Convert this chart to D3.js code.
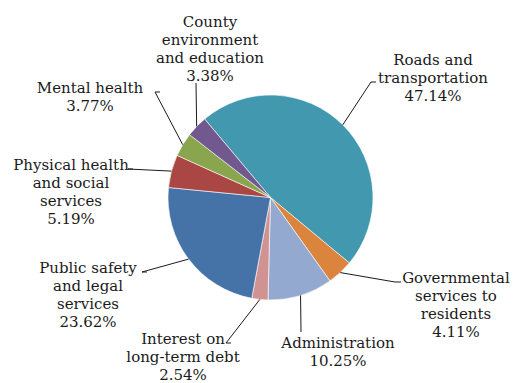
<!DOCTYPE html>
<html>
<head>
<meta charset="utf-8">
<script src="https://cdn.jsdelivr.net/npm/d3@7"></script>
<style>
  html, body { margin: 0; padding: 0; background: #fff; }
  svg text { font-family: "DejaVu Serif", serif; font-size: 15px; fill: #1a1a1a; }
</style>
</head>
<body>
<div id="chart"></div>
<script>
/* chart data */
const categories = [
    "Roads and transportation",
    "Governmental services to residents",
    "Administration",
    "Interest on long-term debt",
    "Public safety and legal services",
    "Physical health and social services",
    "Mental health",
    "County environment and education"
];
const shares = [47.14, 4.11, 10.25, 2.54, 23.62, 5.19, 3.77, 3.38];
const labelLines = [
    ["Roads and", "transportation"],
    ["Governmental", "services to", "residents"],
    ["Administration"],
    ["Interest on", "long-term debt"],
    ["Public safety", "and legal", "services"],
    ["Physical health", "and social", "services"],
    ["Mental health"],
    ["County", "environment", "and education"]
];
const sliceColors = ["#4198af", "#db843d", "#93a9cf", "#d19392", "#4572a7", "#aa4643", "#89a54e", "#71588f"];

const width = 516, height = 383;
const cx = 270.5, cy = 197.5, radius = 102.5;
const lineH = 18;

/* label layout: centre x, centre of first line, and leader line path from the label side */
const labelLayout = [
    { x: 433, y: 60,  leader: [[376, 82], [371, 82]] },
    { x: 456, y: 278, leader: [[401, 282], [395, 282]] },
    { x: 338, y: 343, leader: [[301, 332]] },
    { x: 183, y: 339, leader: [[231, 343], [226, 343]] },
    { x: 88,  y: 268, leader: [[147, 272], [142, 272]] },
    { x: 71,  y: 165, leader: [[133, 169], [128, 169]] },
    { x: 90,  y: 88,  leader: [[160, 92], [155, 92]] },
    { x: 210, y: 22,  leader: [[196, 83]] }
];

const svg = d3.select("#chart")
    .append("svg")
    .attr("width", width)
    .attr("height", height);

const g = svg.append("g").attr("transform", `translate(${cx}, ${cy})`);

const startAngle = -40 * Math.PI / 180;
const pie = d3.pie()
    .sort(null)
    .value(d => d)
    .startAngle(startAngle)
    .endAngle(startAngle + 2 * Math.PI);

const arc = d3.arc().innerRadius(0).outerRadius(radius);
const arcs = pie(shares);

g.selectAll("path.slice")
    .data(arcs)
    .join("path")
    .attr("class", "slice")
    .attr("d", arc)
    .attr("fill", (d, i) => sliceColors[i])
    .attr("stroke", "#ffffff")
    .attr("stroke-width", 0.6);

/* leader lines: from the slice edge at its mid angle out to the label */
arcs.forEach((d, i) => {
    const mid = (d.startAngle + d.endAngle) / 2;
    const p0 = [cx + radius * Math.sin(mid), cy - radius * Math.cos(mid)];
    const pts = [p0].concat(labelLayout[i].leader.slice().reverse());
    svg.append("path")
        .attr("d", d3.line()(pts))
        .attr("fill", "none")
        .attr("stroke", "#1a1a1a")
        .attr("stroke-width", 1);
});

/* labels */
labelLines.forEach((lines, i) => {
    const lay = labelLayout[i];
    const all = lines.concat([shares[i].toFixed(2) + "%"]);
    const t = svg.append("text")
        .attr("text-anchor", "middle");
    all.forEach((line, j) => {
        t.append("tspan")
            .attr("x", lay.x)
            .attr("y", lay.y + j * lineH + 5)
            .text(line);
    });
});
</script>
</body>
</html>
